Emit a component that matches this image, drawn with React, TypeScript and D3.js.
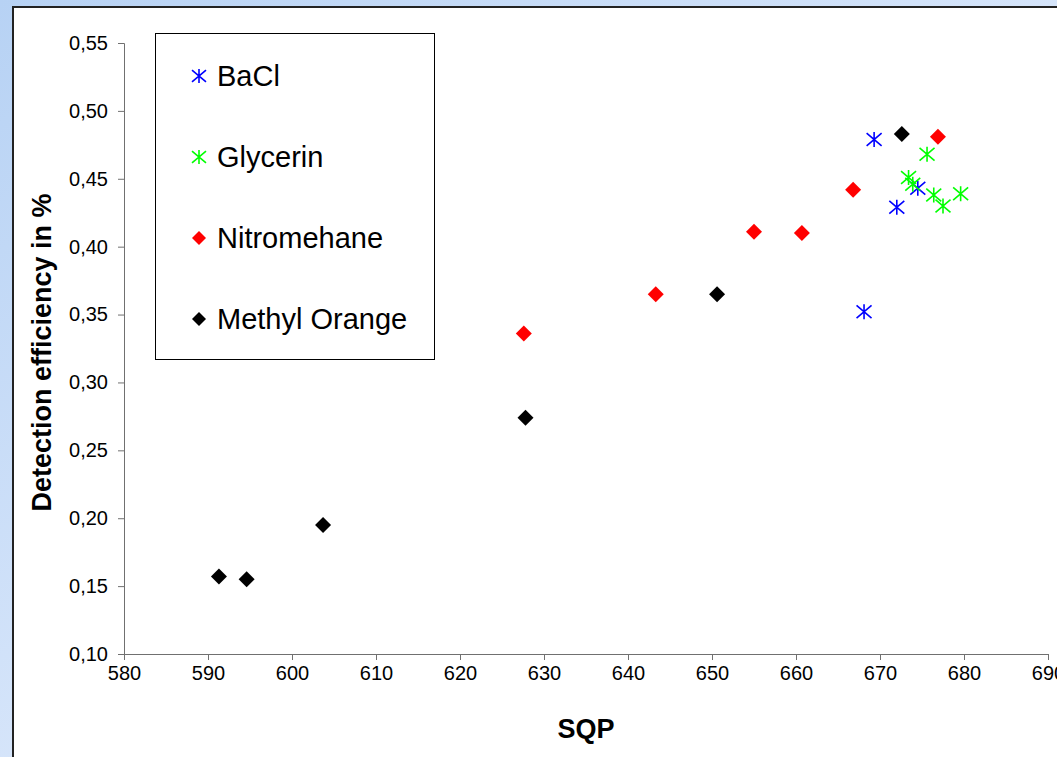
import { useEffect, useRef } from "react";
import * as d3 from "d3";

const xTicks = [580, 590, 600, 610, 620, 630, 640, 650, 660, 670, 680, 690];
const yTicks = [0.1, 0.15, 0.2, 0.25, 0.3, 0.35, 0.4, 0.45, 0.5, 0.55];

const baclX = [669.3, 672.0, 674.5, 668.1];
const baclY = [0.479, 0.429, 0.443, 0.352];

const glycerinX = [675.6, 673.4, 673.9, 676.4, 677.5, 679.6];
const glycerinY = [0.468, 0.451, 0.446, 0.438, 0.43, 0.439];

const nitroX = [676.9, 666.8, 655.0, 660.7, 643.3, 627.6];
const nitroY = [0.481, 0.442, 0.411, 0.41, 0.365, 0.336];

const methylX = [672.6, 650.6, 627.8, 603.7, 591.3, 594.6];
const methylY = [0.483, 0.365, 0.274, 0.195, 0.157, 0.155];

type Marker = "star" | "diamond";

const seriesList = [
	{ name: "BaCl", xs: baclX, ys: baclY, color: "#0000ff", marker: "star" as Marker },
	{ name: "Glycerin", xs: glycerinX, ys: glycerinY, color: "#00ff00", marker: "star" as Marker },
	{ name: "Nitromehane", xs: nitroX, ys: nitroY, color: "#ff0000", marker: "diamond" as Marker },
	{ name: "Methyl Orange", xs: methylX, ys: methylY, color: "#000000", marker: "diamond" as Marker },
];

const FONT = "'Liberation Sans', Arial, sans-serif";

const starPath = (r: number) =>
	`M0,${-r}L0,${r}M${-r},${-r * 0.85}L${r},${r * 0.85}M${-r},${r * 0.85}L${r},${-r * 0.85}`;
const diamondPath = (r: number) => `M0,${-r}L${r},0L0,${r}L${-r},0Z`;

const drawMarker = (
	g: d3.Selection<SVGGElement, unknown, null, undefined>,
	marker: Marker,
	color: string,
	x: number,
	y: number,
	r: number
) => {
	if (marker === "star") {
		g.append("path")
			.attr("d", starPath(r))
			.attr("transform", `translate(${x},${y})`)
			.attr("fill", "none")
			.attr("stroke", color)
			.attr("stroke-width", 1.6);
	} else {
		g.append("path")
			.attr("d", diamondPath(r))
			.attr("transform", `translate(${x},${y})`)
			.attr("fill", color);
	}
};

const Chart = () => {
	const ref = useRef<SVGSVGElement>(null);

	useEffect(() => {
		if (!ref.current) return;
		document.body.style.margin = "0";
		const svg = d3.select(ref.current);
		svg.selectAll("*").remove();

		const width = 1057;
		const height = 757;

		const defs = svg.append("defs");
		const grad = defs
			.append("linearGradient")
			.attr("id", "frame-bg")
			.attr("x1", "0%")
			.attr("y1", "0%")
			.attr("x2", "100%")
			.attr("y2", "100%");
		grad.append("stop").attr("offset", "0%").attr("stop-color", "#b7d2f4");
		grad.append("stop").attr("offset", "60%").attr("stop-color", "#dbe8fb");
		grad.append("stop").attr("offset", "100%").attr("stop-color", "#f4f8ff");

		svg.append("rect").attr("width", width).attr("height", height).attr("fill", "url(#frame-bg)");
		svg.append("rect")
			.attr("x", 13)
			.attr("y", 7)
			.attr("width", width)
			.attr("height", height)
			.attr("fill", "#ffffff")
			.attr("stroke", "#222")
			.attr("stroke-width", 2);

		const x = d3.scaleLinear().domain([580, 690]).range([124, 1048]);
		const y = d3.scaleLinear().domain([0.1, 0.55]).range([654, 43]);

		const fmt = (v: number) => d3.format(".2f")(v).replace(".", ",");

		const yAxis = svg
			.append("g")
			.attr("transform", `translate(${x(580)},0)`)
			.call(d3.axisLeft(y).tickValues(yTicks).tickSize(6).tickPadding(10).tickFormat((d) => fmt(Number(d))));
		yAxis.select(".domain").attr("stroke", "#707070");
		yAxis.selectAll(".tick line").attr("stroke", "#707070");
		yAxis.selectAll("text").attr("font-family", FONT).attr("font-size", 20).attr("fill", "#000");

		const xAxis = svg
			.append("g")
			.attr("transform", `translate(0,${y(0.1)})`)
			.call(d3.axisBottom(x).tickValues(xTicks).tickSize(6).tickPadding(6).tickFormat((d) => String(d)));
		xAxis.select(".domain").attr("stroke", "#707070");
		xAxis.selectAll(".tick line").attr("stroke", "#707070");
		xAxis.selectAll("text").attr("font-family", FONT).attr("font-size", 20).attr("fill", "#000");

		svg.append("text")
			.attr("x", 586)
			.attr("y", 738)
			.attr("text-anchor", "middle")
			.attr("font-family", FONT)
			.attr("font-size", 27)
			.attr("font-weight", "bold")
			.text("SQP");

		svg.append("text")
			.attr("transform", `translate(51,${(197 + 508) / 2}) rotate(-90)`)
			.attr("text-anchor", "middle")
			.attr("font-family", FONT)
			.attr("font-size", 27)
			.attr("font-weight", "bold")
			.text("Detection efficiency in %");

		const points = svg.append("g");
		seriesList.forEach((s) => {
			s.xs.forEach((xv, i) => {
				drawMarker(points, s.marker, s.color, x(xv), y(s.ys[i]), s.marker === "star" ? 7.5 : 8);
			});
		});

		const legend = svg.append("g");
		legend
			.append("rect")
			.attr("x", 155.5)
			.attr("y", 33.5)
			.attr("width", 279)
			.attr("height", 326)
			.attr("fill", "#fff")
			.attr("stroke", "#000")
			.attr("stroke-width", 1);

		seriesList.forEach((s, i) => {
			const cy = 76 + i * 81;
			drawMarker(legend, s.marker, s.color, 199, cy, 7);
			legend
				.append("text")
				.attr("x", 217)
				.attr("y", cy)
				.attr("dy", "0.36em")
				.attr("font-family", FONT)
				.attr("font-size", 29)
				.attr("fill", "#000")
				.text(s.name);
		});
	}, []);

	return <svg ref={ref} width={1057} height={757} style={{ display: "block" }} />;
};

export default function App() {
	return <Chart />;
}
